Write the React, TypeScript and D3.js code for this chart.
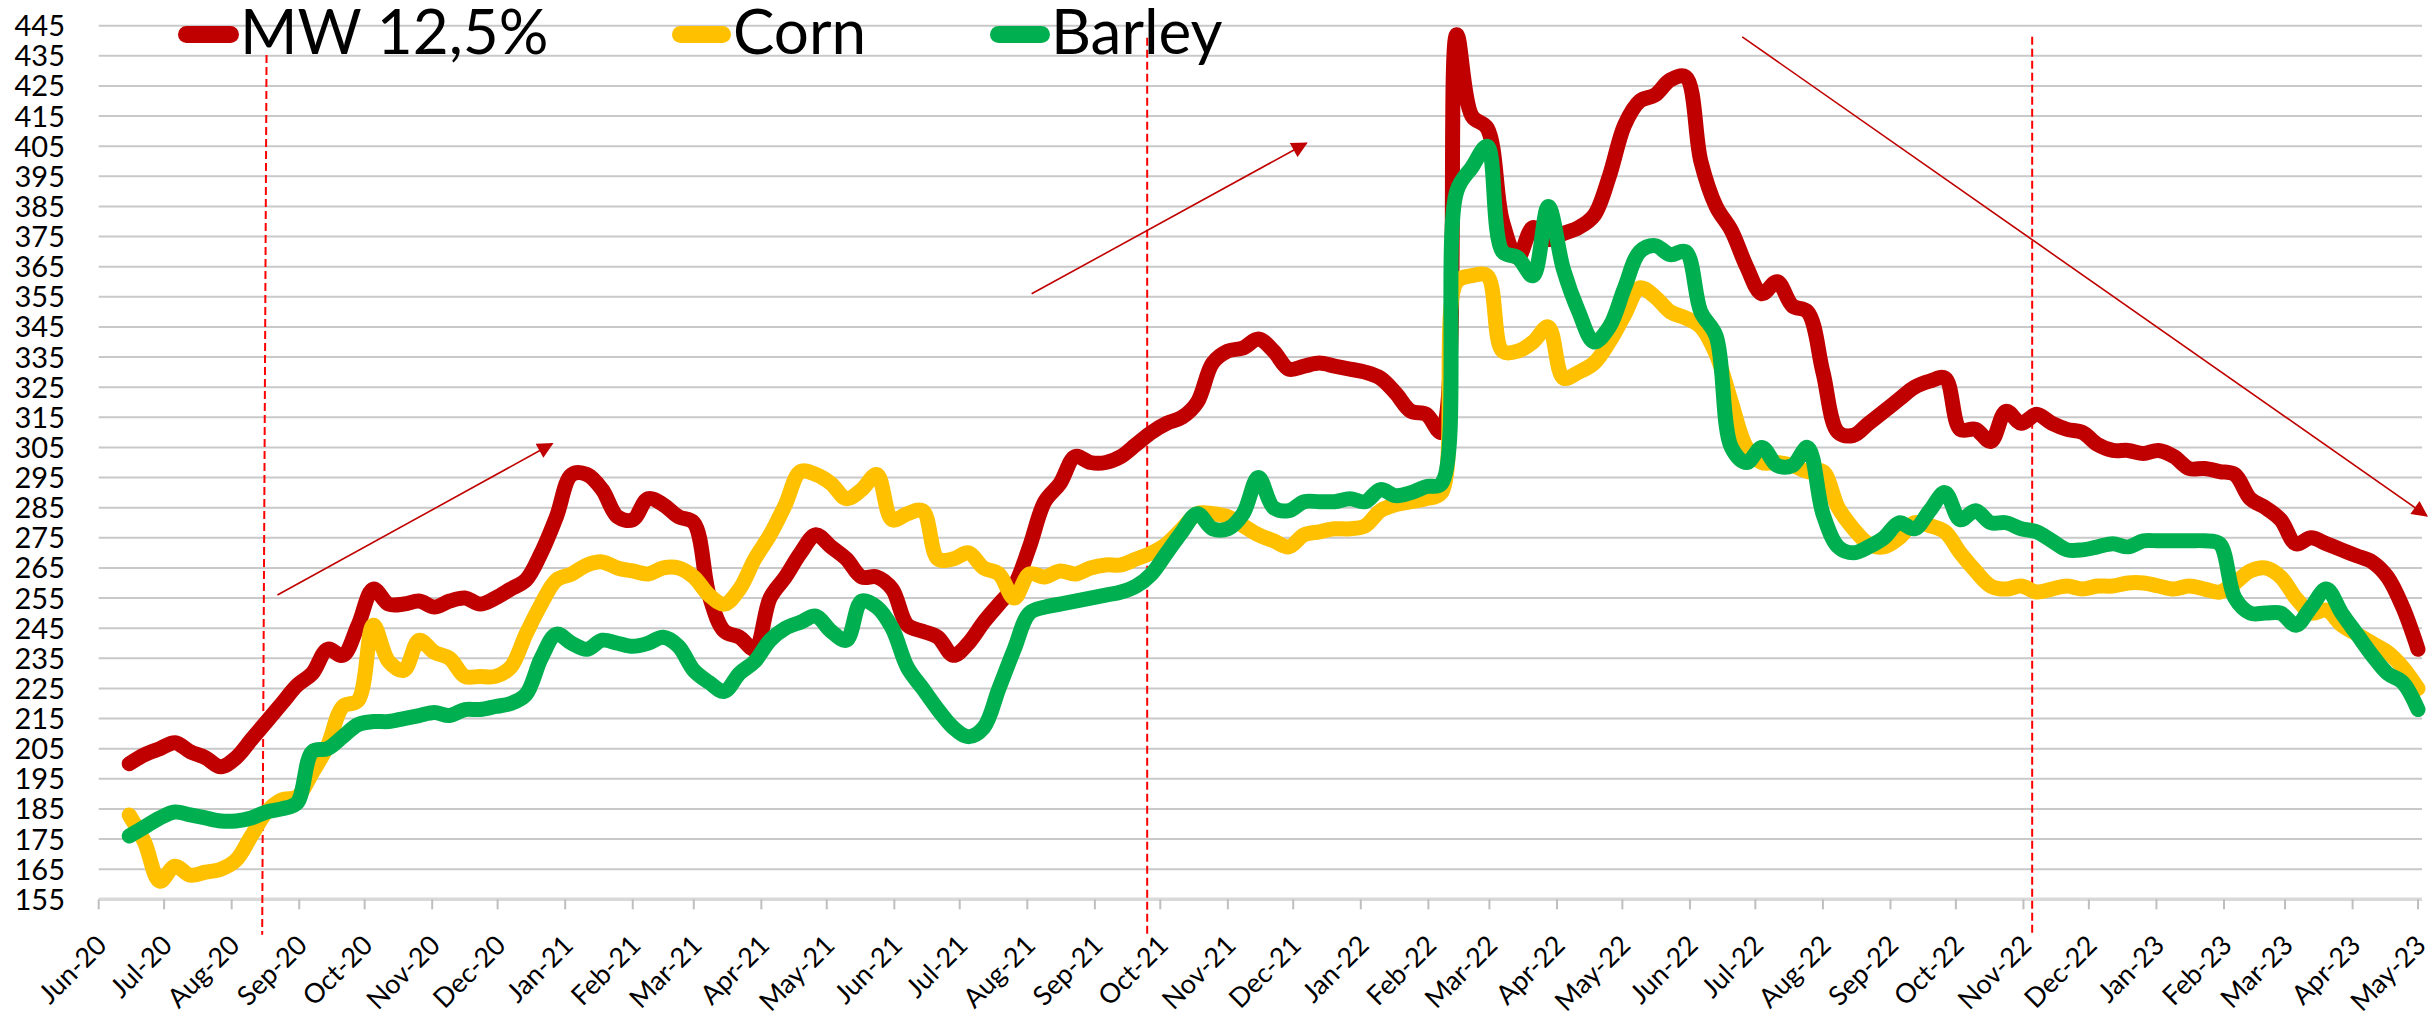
import React from "react";
import * as d3 from "d3";

// ---------- data ----------
const FIRST_WEEK = "2020-06-15"; // weekly observations start here
const AXIS_START = "2020-06-01";
const AXIS_END = "2023-05-01";

const SERIES_NAMES = ["MW 12,5%", "Corn", "Barley"];
const SERIES_COLORS = ["#c00000", "#ffc000", "#00b050"];

const mw = [
  200, 203, 205, 207, 204, 202, 199, 202, 208, 214,
  220, 226, 230, 238, 236, 246, 258, 253, 253, 254,
  252, 254, 255, 253, 255, 258, 261, 270, 282, 296,
  296, 291, 282, 281, 288, 286, 282, 280, 256, 244,
  242, 238, 255, 262, 270, 276, 272, 268, 262, 262,
  258, 246, 244, 242, 236, 240, 247, 253, 259, 272,
  287, 293, 302, 300, 300, 302, 306, 310, 313, 315,
  320, 333, 337, 338, 341, 337, 331, 332, 333, 332,
  331, 330, 328, 323, 317, 316, 310, 442, 415, 411,
  380, 368, 378, 374, 376, 378, 382, 395, 412, 420,
  422, 427, 428, 400, 385, 377, 365, 356, 360, 352,
  350, 330, 310, 309, 313, 317, 321, 325, 327, 328,
  311, 311, 307, 317, 313, 316, 313, 311, 310, 306,
  304, 304, 303, 304, 302, 298, 298, 297, 296, 288,
  285, 281, 273, 275, 273, 271, 269, 267, 262, 252,
  238,
];

const corn = [
  183, 174, 161, 166, 163, 164, 165, 168, 176, 184,
  188, 189, 197, 206, 219, 221, 246, 234, 231, 241,
  237, 235, 229, 229, 229, 232, 243, 253, 261, 263,
  266, 267, 265, 264, 263, 265, 265, 262, 256, 253,
  258, 268, 276, 286, 297, 296, 293, 288, 291, 296,
  281, 283, 284, 268, 268, 270, 265, 263, 255, 263,
  262, 264, 263, 265, 266, 266, 268, 270, 273, 278,
  283, 283, 282, 279, 276, 274, 272, 276, 277, 278,
  278, 279, 284, 286, 287, 288, 290, 360, 362, 362,
  337, 337, 340, 345, 328, 330, 333, 340, 349, 358,
  355, 350, 348, 345, 336, 320, 305, 300, 300, 299,
  297, 297, 285, 278, 273, 272, 275, 280, 279, 277,
  270, 264, 259, 258, 259, 257, 258, 259, 258, 259,
  259, 260, 260, 259, 258, 259, 258, 257, 260, 264,
  265, 262, 255, 250, 251, 246, 243, 240, 237, 232,
  225,
];

const barley = [
  176, 179, 182, 184, 183, 182, 181, 181, 182, 184,
  185, 187, 204, 205, 209, 213, 214, 214, 215, 216,
  217, 216, 218, 218, 219, 220, 223, 235, 243, 240,
  238, 241, 240, 239, 240, 242, 239, 231, 227, 224,
  230, 234, 241, 245, 247, 249, 244, 241, 254, 252,
  245, 232, 225, 218, 212, 209, 212, 225, 238, 250,
  252, 253, 254, 255, 256, 257, 259, 263, 270, 277,
  283, 278, 278, 283, 295, 285, 284, 287, 287, 287,
  288, 287, 291, 289, 290, 292, 293, 390, 398, 405,
  370, 368, 362, 385, 364, 350, 340, 345, 358, 370,
  372, 369, 370, 350, 342, 305, 300, 305, 299, 299,
  305, 283, 272, 270, 272, 275, 280, 278, 284, 290,
  281, 284, 280, 280, 278, 277, 274, 271, 271, 272,
  273, 272, 274, 274, 274, 274, 274, 273, 255, 250,
  250, 250, 246, 252, 258, 250, 243, 236, 230, 227,
  218,
];

const Y_TICKS = [
  155, 165, 175, 185, 195, 205, 215, 225, 235, 245,
  255, 265, 275, 285, 295, 305, 315, 325, 335, 345,
  355, 365, 375, 385, 395, 405, 415, 425, 435, 445,
];

// annotations (in data space)
const DASHED_LINES = [
  { top: ["2020-08-17", 435.3], bottom: ["2020-08-15", 143.2] },
  { top: ["2021-09-25", 441], bottom: ["2021-09-25", 143.2] },
  { top: ["2022-11-05", 441.3], bottom: ["2022-11-05", 143.2] },
];
const TREND_ARROWS = [
  { from: ["2020-08-22", 256], to: ["2020-12-26", 306.2] },
  { from: ["2021-08-03", 356], to: ["2021-12-07", 406] },
  { from: ["2022-06-25", 441.3], to: ["2023-05-05", 282.3] },
];

// ---------- layout ----------
const W = 2433;
const H = 1024;
const X0 = 98.7;
const X1 = 2418;
const Y_TOP = 25.7;
const Y_BOT = 899.3;
const FONT = "Lato, 'Open Sans', sans-serif";

const parse = d3.timeParse("%Y-%m-%d");

export default function App() {
  const x = d3
    .scaleTime()
    .domain([parse(AXIS_START) as Date, parse(AXIS_END) as Date])
    .range([X0, X1]);
  const y = d3.scaleLinear().domain([155, 445]).range([Y_BOT, Y_TOP]);

  const start = parse(FIRST_WEEK) as Date;
  const dates = mw.map((_, i) => d3.timeDay.offset(start, 7 * i));
  const months = d3.timeMonth.range(
    parse(AXIS_START) as Date,
    d3.timeDay.offset(parse(AXIS_END) as Date, 1)
  );
  const fmt = d3.timeFormat("%b-%y");

  const line = d3
    .line<number>()
    .x((_, i) => x(dates[i]))
    .y((v) => y(v))
    .curve(d3.curveCatmullRom.alpha(0.5));

  const seriesData = [mw, corn, barley];

  const pt = (p: (string | number)[]) => [
    x(parse(p[0] as string) as Date),
    y(p[1] as number),
  ];

  const legendItems = [
    { sw: [186.5, 230.5], tx: 240 },
    { sw: [680.5, 722.5], tx: 733 },
    { sw: [998.5, 1041.5], tx: 1051 },
  ];

  return (
    <svg
      width={W}
      height={H}
      style={{ position: "absolute", left: 0, top: 0, background: "#fff" }}
      fontFamily={FONT}
    >
      <defs>
        <marker
          id="arrowHead"
          viewBox="0 0 10 10"
          refX="9"
          refY="5"
          markerWidth="11"
          markerHeight="10"
          markerUnits="strokeWidth"
          orient="auto"
        >
          <path d="M0,0 L10,5 L0,10 z" fill="#c00000" />
        </marker>
      </defs>
      <rect x={0} y={0} width={W} height={H} fill="#fff" />

      {/* gridlines */}
      {Y_TICKS.filter((t) => t !== 155).map((t) => (
        <line
          key={"g" + t}
          x1={X0}
          x2={X1 + 4}
          y1={y(t)}
          y2={y(t)}
          stroke="#c9c9c9"
          strokeWidth={2}
        />
      ))}

      {/* y labels */}
      {Y_TICKS.map((t) => (
        <text
          key={"yl" + t}
          x={65}
          y={y(t) + 10.5}
          textAnchor="end"
          fontSize={29}
          fill="#000"
        >
          {t}
        </text>
      ))}

      {/* x axis */}
      <line x1={X0} x2={X1 + 4} y1={Y_BOT} y2={Y_BOT} stroke="#d9d9d9" strokeWidth={3.5} />
      {months.map((m) => (
        <line
          key={"t" + m.getTime()}
          x1={x(m)}
          x2={x(m)}
          y1={Y_BOT}
          y2={Y_BOT + 10}
          stroke="#bfbfbf"
          strokeWidth={2}
        />
      ))}
      {months.map((m) => (
        <text
          key={"xl" + m.getTime()}
          transform={`translate(${x(m) + 3},${Y_BOT + 41}) rotate(-45)`}
          textAnchor="end"
          dy="0.35em"
          fontSize={27}
          fill="#000"
        >
          {fmt(m)}
        </text>
      ))}

      {/* dashed verticals */}
      {DASHED_LINES.map((d, i) => {
        const [xa, ya] = pt(d.top);
        const [xb, yb] = pt(d.bottom);
        return (
          <line
            key={"d" + i}
            x1={xa}
            y1={ya}
            x2={xb}
            y2={yb}
            stroke="#ff0000"
            strokeWidth={2}
            strokeDasharray="8 4"
          />
        );
      })}

      {/* series */}
      {seriesData.map((s, i) => (
        <path
          key={"s" + i}
          d={line(s) || ""}
          fill="none"
          stroke={SERIES_COLORS[i]}
          strokeWidth={15}
          strokeLinejoin="round"
          strokeLinecap="round"
        />
      ))}

      {/* trend arrows */}
      {TREND_ARROWS.map((a, i) => {
        const [xa, ya] = pt(a.from);
        const [xb, yb] = pt(a.to);
        return (
          <line
            key={"a" + i}
            x1={xa}
            y1={ya}
            x2={xb}
            y2={yb}
            stroke="#c00000"
            strokeWidth={1.6}
            markerEnd="url(#arrowHead)"
          />
        );
      })}

      {/* legend */}
      {SERIES_NAMES.map((n, i) => (
        <g key={"l" + i}>
          <line
            x1={legendItems[i].sw[0]}
            x2={legendItems[i].sw[1]}
            y1={34.5}
            y2={34.5}
            stroke={SERIES_COLORS[i]}
            strokeWidth={17}
            strokeLinecap="round"
          />
          <text x={legendItems[i].tx} y={54} fontSize={62} fill="#000">
            {n}
          </text>
        </g>
      ))}
    </svg>
  );
}
